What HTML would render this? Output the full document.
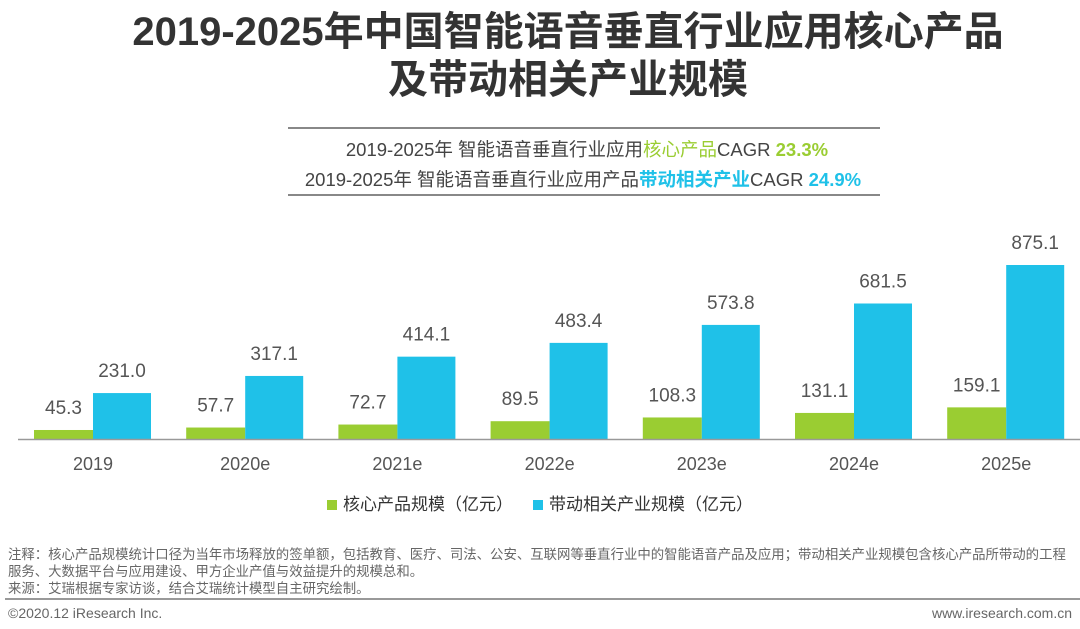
<!DOCTYPE html>
<html><head><meta charset="utf-8"><style>
body{margin:0;width:1080px;height:629px;background:#fff;overflow:hidden;font-family:"Liberation Sans","Noto Sans CJK SC",sans-serif;color:#333;position:relative}
.a{position:absolute}
</style></head><body>
<div class="a" style="left:0;width:1136px;top:8px;text-align:center;font-weight:bold;font-size:40px;line-height:48px;color:#333">2019-2025年中国智能语音垂直行业应用核心产品<br>及带动相关产业规模</div>
<div class="a" style="left:288px;top:127px;width:592px;height:2px;background:#888"></div>
<div class="a" style="left:288px;width:598px;top:136px;text-align:center;font-size:18.5px;color:#444">2019-2025年 智能语音垂直行业应用<span style="color:#9acd32">核心产品</span>CAGR <span style="color:#9acd32;font-weight:bold">23.3%</span></div>
<div class="a" style="left:288px;width:590px;top:166px;text-align:center;font-size:18.5px;color:#444">2019-2025年 智能语音垂直行业应用产品<span style="color:#1fc1e8;font-weight:bold">带动相关产业</span>CAGR <span style="color:#1fc1e8;font-weight:bold">24.9%</span></div>
<div class="a" style="left:288px;top:194px;width:592px;height:2px;background:#888"></div>
<svg class="a" style="left:0;top:0" width="1080" height="629" id="chart"></svg>
<div class="a" style="left:327px;top:490px;font-size:17px;color:#333"><span style="display:inline-block;width:10px;height:10px;background:#9acd32;margin-right:6px"></span>核心产品规模（亿元）</div>
<div class="a" style="left:533px;top:490px;font-size:17px;color:#333"><span style="display:inline-block;width:10px;height:10px;background:#1fc1e8;margin-right:6px"></span>带动相关产业规模（亿元）</div>
<div class="a" style="left:8px;top:546px;font-size:13.4px;line-height:17px;color:#666;white-space:nowrap">注释：核心产品规模统计口径为当年市场释放的签单额，包括教育、医疗、司法、公安、互联网等垂直行业中的智能语音产品及应用；带动相关产业规模包含核心产品所带动的工程<br>服务、大数据平台与应用建设、甲方企业产值与效益提升的规模总和。<br>来源：艾瑞根据专家访谈，结合艾瑞统计模型自主研究绘制。</div>
<div class="a" style="left:5px;top:598px;width:1075px;height:2px;background:#999"></div>
<div class="a" style="left:8px;top:605px;font-size:14px;color:#666">©2020.12 iResearch Inc.</div>
<div class="a" style="right:8px;top:605px;font-size:14px;color:#666">www.iresearch.com.cn</div>
<script>
const categories=["2019","2020e","2021e","2022e","2023e","2024e","2025e"];
const coreValues=[45.3,57.7,72.7,89.5,108.3,131.1,159.1];
const relatedValues=[231.0,317.1,414.1,483.4,573.8,681.5,875.1];
const svg=document.getElementById('chart');
const NS='http://www.w3.org/2000/svg';
const base=439,scale=174/875.1;
const x=i=>34+i*152.2;
const y=v=>base-v*scale;
function mk(t,a){const e=document.createElementNS(NS,t);for(const k in a)e.setAttribute(k,a[k]);svg.appendChild(e);return e;}
categories.forEach((c,i)=>{
  const g=mk('rect',{x:x(i),y:y(coreValues[i]),width:59,height:base-y(coreValues[i]),fill:'#9acd32'});
  
  
  const b=mk('rect',{x:x(i)+59,y:y(relatedValues[i]),width:58,height:base-y(relatedValues[i]),fill:'#1fc1e8'});
  
  
  const t1=mk('text',{x:x(i)+29.5,y:y(coreValues[i])-16,'text-anchor':'middle','font-size':19,fill:'#555'});
  t1.textContent=coreValues[i].toFixed(1);
  
  
  const t2=mk('text',{x:x(i)+88,y:y(relatedValues[i])-16,'text-anchor':'middle','font-size':19,fill:'#555'});
  t2.textContent=relatedValues[i].toFixed(1);
  
  
  const tc=mk('text',{x:x(i)+59,y:470,'text-anchor':'middle','font-size':18,fill:'#555'});
  tc.textContent=c;
  
  
});
const ax=mk('line',{x1:18,x2:1080,y1:base+0.5,y2:base+0.5,stroke:'#999','stroke-width':1.5});


</script>
</body></html>
